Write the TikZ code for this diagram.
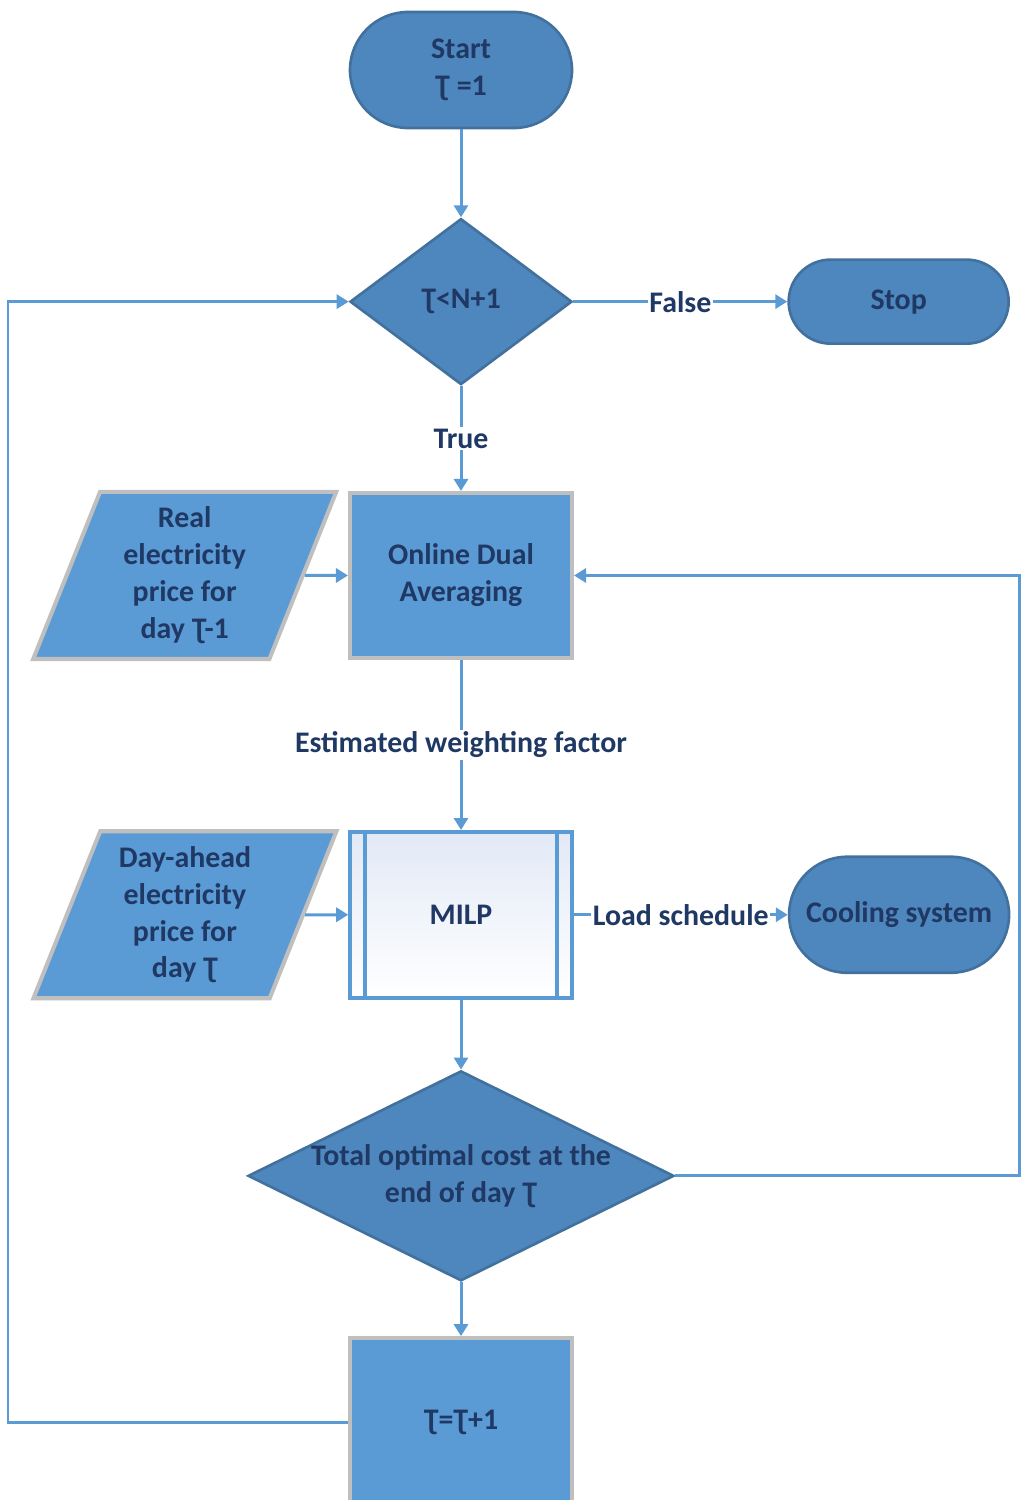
\documentclass[tikz,border=0pt]{standalone}
\usepackage{fontspec}
\setmainfont{Carlito}
\usetikzlibrary{positioning, shapes.geometric, arrows.meta}
\definecolor{termfill}{HTML}{4E86BE}
\definecolor{termedge}{HTML}{41719C}
\definecolor{procfill}{HTML}{5B9BD5}
\definecolor{procedge}{HTML}{BFBFBF}
\definecolor{flowline}{HTML}{5B9BD5}
\definecolor{flowtext}{HTML}{1F3864}
\definecolor{milpshade}{HTML}{E2E9F6}
\newcommand{\flowfont}{\fontsize{17}{21}\selectfont\bfseries}
\tikzset{
	terminal/.style={draw=termedge, line width=1.5pt, fill=termfill, rectangle, minimum width=4.44cm, minimum height=2.32cm, rounded corners=1.16cm, align=center, text=flowtext, font=\flowfont},
	decision/.style={draw=termedge, line width=1.5pt, fill=termfill, diamond, inner sep=0pt, minimum width=4.44cm, minimum height=3.32cm, align=center, text=flowtext, font=\flowfont},
	process/.style={draw=procedge, line width=2.3pt, fill=procfill, rectangle, minimum width=4.44cm, minimum height=3.3cm, align=center, text=flowtext, font=\flowfont},
	% parallelogram for the price inputs
	data/.style={draw=procedge, line width=2.3pt, fill=procfill, trapezium, trapezium left angle=64, trapezium right angle=116, trapezium stretches body, minimum width=6.06cm, minimum height=3.34cm, inner sep=0pt, align=center, text=flowtext, font=\flowfont},
	subprocess/.style={draw=flowline, line width=2pt, top color=milpshade, bottom color=white, rectangle, minimum width=4.44cm, minimum height=3.32cm, text=flowtext, font=\flowfont},
	flowlabel/.style={fill=white, inner sep=1pt, text=flowtext, font=\flowfont},
}

\begin{document}
\begin{tikzpicture}
	\useasboundingbox (0,0) rectangle (20.42,-30);
	
	\node (start) [terminal] at (9.22,-1.4) {Start\\Ʈ =1};
	\node (test) [decision, below=1.76cm of start] {Ʈ<N+1};
	\node (stop) [terminal, right=4.28cm of test, minimum width=4.4cm, minimum height=1.68cm, rounded corners=0.84cm] {Stop};
	
	\node (oda) [process, below=2.1cm of test] {Online Dual\\Averaging};
	\node (real) [data, left=0.86cm of oda] {Real\\electricity\\price for\\day Ʈ-1};
	
	\node (milp) [subprocess, below=3.4cm of oda] {MILP};
	\node (ahead) [data, left=0.86cm of milp] {Day-ahead\\electricity\\price for\\day Ʈ};
	\node (cool) [terminal, right=4.28cm of milp, minimum width=4.4cm] {Cooling system};
	
	\node (cost) [decision, below=1.4cm of milp, minimum width=8.52cm, minimum height=4.2cm, label={[text=flowtext, font=\flowfont, align=center]center:{Total optimal cost at the\\end of day Ʈ}}] {};
	\node (next) [process, below=1.08cm of cost, minimum height=3.36cm] {Ʈ=Ʈ+1};
	
	\coordinate (leftrail) at (0.16,0);
	\coordinate (rightrail) at (20.38,0);
	
	% side bars of the MILP box
	\draw [flowline, line width=2pt] ([xshift=0.34cm]milp.north west) -- ([xshift=0.34cm]milp.south west);
	\draw [flowline, line width=2pt] ([xshift=-0.34cm]milp.north east) -- ([xshift=-0.34cm]milp.south east);
	
	\begin{scope}[flowline, line width=1.7pt, ->, >={Triangle[width=0.28cm, length=0.24cm]}]
		\draw (start) -- (test);
		\draw (test) -- node[flowlabel] {False} (stop);
		\draw (test) -- node[flowlabel] {True} (oda);
		\draw (real.right side) -- (oda);
		
		\draw (oda) -- node[flowlabel] {Estimated weighting factor} (milp);
		\draw (ahead.right side) -- (milp);
		\draw (milp) -- node[flowlabel] {Load schedule} (cool);
		
		\draw (milp) -- (cost);
		\draw (cost) -- (next);
		\draw (cost.east) -- (cost.east -| rightrail) |- (oda.east);
		\draw (next.west) -- (next.west -| leftrail) |- (test.west);
	\end{scope}
	
\end{tikzpicture}
\end{document}
